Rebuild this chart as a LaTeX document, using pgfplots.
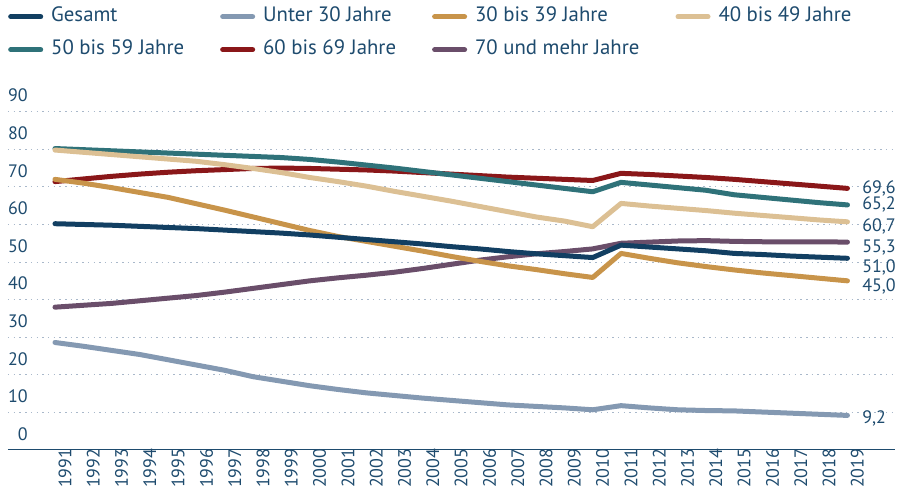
\documentclass[border=0pt]{standalone}
\usepackage{fontspec}
\setmainfont{PT Sans}
\usepackage{pgfplots}
\pgfplotsset{compat=1.18}
\usepackage{pgfplotstable}
\definecolor{txt}{HTML}{1E4B6E}
\definecolor{cGes}{HTML}{123F62}
\definecolor{cU30}{HTML}{8499B2}
\definecolor{cA30}{HTML}{C8944A}
\definecolor{cA40}{HTML}{DCC094}
\definecolor{cA50}{HTML}{2F7279}
\definecolor{cA60}{HTML}{8A1719}
\definecolor{cA70}{HTML}{6A4E6A}
\definecolor{gridc}{HTML}{A9B8CA}

\pgfplotstableread{
year ges u30 a30 a40 a50 a60 a70
1991 60.2 28.6 72.0 79.8 80.2 71.4 38.0
1992 60.0 27.6 71.0 79.2 79.9 72.1 38.5
1993 59.8 26.5 69.8 78.6 79.6 72.8 39.0
1994 59.5 25.4 68.5 78.0 79.3 73.4 39.7
1995 59.2 24.0 67.2 77.4 79.0 73.9 40.4
1996 58.9 22.6 65.5 76.8 78.7 74.3 41.1
1997 58.5 21.2 63.8 75.9 78.4 74.6 42.0
1998 58.1 19.5 62.0 74.9 78.1 74.9 43.0
1999 57.7 18.3 60.2 73.8 77.8 75.0 44.0
2000 57.2 17.1 58.4 72.5 77.3 74.9 45.0
2001 56.6 16.1 56.8 71.4 76.6 74.7 45.8
2002 56.0 15.2 55.5 70.2 75.8 74.5 46.5
2003 55.4 14.5 54.2 68.8 75.0 74.2 47.3
2004 54.8 13.8 52.9 67.5 74.1 73.8 48.3
2005 54.1 13.2 51.5 66.2 73.2 73.4 49.4
2006 53.5 12.6 50.2 64.8 72.3 73.0 50.5
2007 52.8 12.0 49.0 63.4 71.4 72.6 51.4
2008 52.2 11.6 48.0 62.0 70.5 72.3 52.2
2009 51.7 11.2 46.9 60.9 69.6 72.0 52.8
2010 51.2 10.7 45.9 59.4 68.7 71.7 53.5
2011 54.5 11.8 52.3 65.6 71.2 73.6 55.0
2012 54.0 11.2 51.0 64.9 70.5 73.3 55.3
2013 53.5 10.7 49.8 64.3 69.8 72.9 55.6
2014 53.0 10.5 48.8 63.7 69.1 72.5 55.7
2015 52.3 10.4 47.9 63.0 67.9 72.0 55.5
2016 52.0 10.1 47.1 62.4 67.2 71.4 55.4
2017 51.6 9.8 46.4 61.8 66.5 70.8 55.4
2018 51.3 9.5 45.7 61.2 65.8 70.2 55.4
2019 51.0 9.2 45.0 60.7 65.2 69.6 55.3
}\data

\begin{document}
\begin{tikzpicture}
\useasboundingbox (0pt,0pt) rectangle (904pt,500pt);
\begin{axis}[
  at={(8pt,50pt)}, anchor=south west,
  scale only axis, width=887pt, height=338.3pt,
  xmin=1989.34, xmax=2020.68, ymin=0, ymax=90,
  clip=false,
  axis x line*=bottom, axis y line*=left,
  y axis line style={draw=none},
  x axis line style={txt, line width=1pt},
  major tick length=0pt,
  xtick={1991,...,2019},
  ytick={0,10,...,90},
  ymajorgrids,
  grid style={gridc, line width=1pt, dash pattern=on 1.5pt off 4.2pt},
  /pgf/number format/assume math mode=true,
  /pgf/number format/1000 sep={},
  tick label style={font=\fontsize{18}{20}\selectfont, text=txt},
  yticklabel style={anchor=east, inner sep=0pt, xshift=20pt, yshift=16pt},
  xticklabel style={rotate=90, anchor=east, inner sep=0pt, yshift=-10pt, xshift=1.5pt},
  legend columns=4,
  reverse legend,
  legend image code/.code={\draw[#1, line width=5pt, line cap=round] (2.5pt,0pt) -- (32.5pt,0pt);},
  legend style={at={(0,1.3065)}, anchor=north west, draw=none, fill=none,
    inner sep=0pt, font=\fontsize{20.8}{24}\selectfont, text=txt,
    cells={anchor=west},
    /tikz/every odd column/.append style={column sep=8pt},
    /tikz/every even column/.append style={column sep=36pt},
    row sep=16pt,
    nodes={inner sep=0pt, text height=13pt, text depth=4pt}},
  every axis plot/.append style={line width=5pt, line cap=round, line join=round, mark=none},
]
\addplot[cA70] table[x=year, y=a70] {\data};
\addlegendentry{70 und mehr Jahre}
\addplot[cA60] table[x=year, y=a60] {\data};
\addlegendentry{60 bis 69 Jahre}
\addplot[cA50] table[x=year, y=a50] {\data};
\addlegendentry{50 bis 59 Jahre}
\addplot[cA40] table[x=year, y=a40] {\data};
\addlegendentry{40 bis 49 Jahre}
\addplot[cA30] table[x=year, y=a30] {\data};
\addlegendentry{30 bis 39 Jahre}
\addplot[cU30] table[x=year, y=u30] {\data};
\addlegendentry{Unter 30 Jahre}
\addplot[cGes] table[x=year, y=ges] {\data};
\addlegendentry{Gesamt}
\begin{scope}[every node/.style={anchor=west, inner sep=0pt, xshift=14.6pt, text=txt, font=\fontsize{18}{20}\selectfont}]
\node at (axis cs:2019,69.6) {69,6};
\node at (axis cs:2019,65.2) {65,2};
\node at (axis cs:2019,59.6) {60,7};
\node at (axis cs:2019,53.8) {55,3};
\node at (axis cs:2019,48.6) {51,0};
\node at (axis cs:2019,43.4) {45,0};
\node at (axis cs:2019,8.5) {9,2};
\end{scope}
\end{axis}
\end{tikzpicture}
\end{document}
